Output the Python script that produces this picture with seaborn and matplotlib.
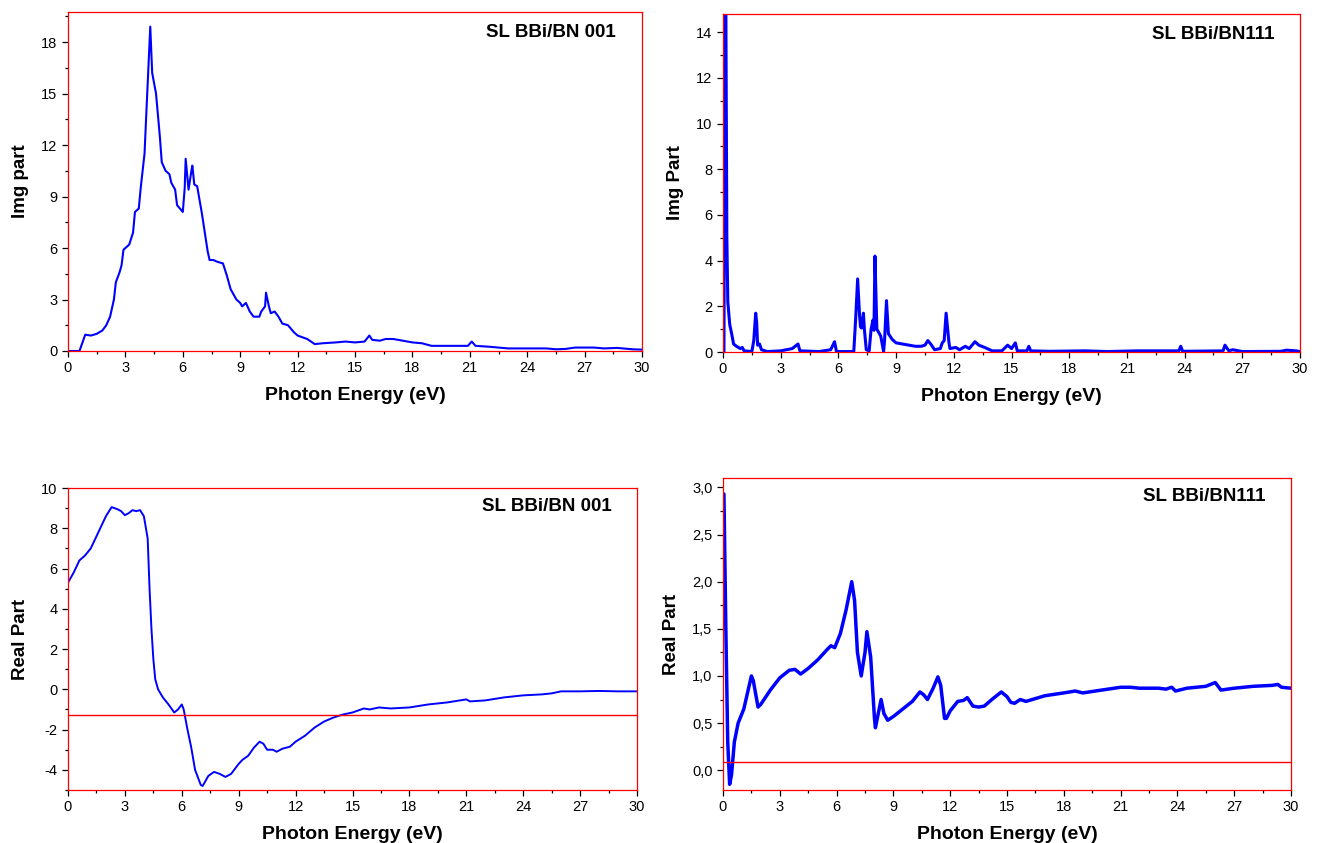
import numpy as np
import pandas as pd
import matplotlib
matplotlib.use("Agg")
import matplotlib.pyplot as plt
from matplotlib.ticker import MultipleLocator, FuncFormatter
import seaborn as sns

# ---------------- data ----------------
img001_x = [0.0, 0.6, 0.9, 1.2, 1.5, 1.8, 2.0, 2.2, 2.4, 2.5, 2.7, 2.8, 2.9, 3.2, 3.4, 3.5, 3.7, 3.8,
            4.0, 4.1, 4.3, 4.4, 4.6, 4.8, 4.9, 5.1, 5.3, 5.4, 5.6, 5.7, 6.0, 6.1, 6.15, 6.3, 6.45, 6.5,
            6.6, 6.75, 7.0, 7.3, 7.4, 7.6, 7.8, 8.1, 8.3, 8.5, 8.8, 9.0, 9.1, 9.3, 9.5, 9.7, 10.0, 10.1,
            10.3, 10.35, 10.5, 10.6, 10.8, 11.0, 11.2, 11.5, 11.8, 12.0, 12.5, 12.9, 13.3, 14.0, 14.5,
            15.0, 15.5, 15.75, 15.9, 16.3, 16.6, 17.0, 17.5, 18.0, 18.5, 19.0, 20.0, 20.9, 21.1, 21.3,
            22.0, 23.0, 24.0, 25.0, 25.5, 26.0, 26.5, 27.5, 28.0, 28.7, 29.5, 30.0]
img001_y = [0.0, 0.0, 0.95, 0.9, 1.0, 1.2, 1.5, 2.0, 3.0, 4.0, 4.6, 5.0, 5.9, 6.2, 6.9, 8.1, 8.3, 9.5,
            11.5, 14.0, 18.9, 16.2, 15.0, 12.5, 11.0, 10.5, 10.3, 9.8, 9.4, 8.5, 8.1, 9.5, 11.2, 9.4, 10.5, 10.8,
            9.7, 9.6, 8.0, 5.8, 5.3, 5.3, 5.2, 5.1, 4.4, 3.6, 3.0, 2.8, 2.6, 2.8, 2.3, 2.0, 2.0, 2.3,
            2.6, 3.4, 2.6, 2.2, 2.3, 2.0, 1.6, 1.5, 1.1, 0.9, 0.7, 0.4, 0.45, 0.5, 0.55,
            0.5, 0.55, 0.9, 0.65, 0.6, 0.7, 0.7, 0.6, 0.5, 0.45, 0.3, 0.3, 0.3, 0.55, 0.3,
            0.25, 0.15, 0.15, 0.15, 0.1, 0.12, 0.2, 0.2, 0.15, 0.18, 0.1, 0.08]

img111_x = [0.05, 0.1, 0.15, 0.2, 0.25, 0.35, 0.45, 0.55, 0.7, 0.9, 1.0, 1.1, 1.5, 1.6, 1.7, 1.75, 1.8,
            1.9, 2.0, 2.3, 3.0, 3.6, 3.9, 4.0, 5.0, 5.6, 5.8, 5.9, 6.8, 6.9, 7.0, 7.1, 7.15, 7.2, 7.3,
            7.35, 7.45, 7.6, 7.7, 7.8, 7.85, 7.9, 8.0, 8.2, 8.35, 8.4, 8.5, 8.6, 8.8, 9.0, 10.0, 10.3,
            10.5, 10.65, 10.8, 11.0, 11.3, 11.4, 11.5, 11.6, 11.75, 11.8, 12.1, 12.3, 12.6, 12.8, 13.1,
            13.3, 13.6, 14.0, 14.5, 14.8, 15.0, 15.2, 15.3, 15.8, 15.9, 16.0, 17.0, 18.8, 20.0, 21.5,
            23.0, 23.7, 23.8, 23.9, 26.0, 26.1, 26.3, 26.5, 27.0, 29.0, 29.3, 29.8, 30.0]
img111_y = [0.0, 14.8, 14.8, 5.0, 2.2, 1.2, 0.8, 0.35, 0.25, 0.15, 0.2, 0.05, 0.02, 0.5, 1.7, 1.3, 0.3,
            0.35, 0.1, 0.02, 0.05, 0.15, 0.35, 0.05, 0.02, 0.1, 0.45, 0.02, 0.02, 1.5, 3.2, 1.6, 1.1, 1.05, 1.7,
            1.0, 0.1, 0.05, 1.0, 1.4, 0.95, 4.2, 1.0, 0.7, 0.02, 0.5, 2.25, 0.8, 0.55, 0.4, 0.25, 0.25,
            0.3, 0.5, 0.35, 0.1, 0.15, 0.4, 0.5, 1.7, 0.4, 0.15, 0.2, 0.1, 0.25, 0.15, 0.45,
            0.3, 0.2, 0.05, 0.05, 0.3, 0.15, 0.4, 0.05, 0.05, 0.25, 0.05, 0.03, 0.05, 0.02, 0.05,
            0.05, 0.05, 0.25, 0.03, 0.05, 0.3, 0.05, 0.1, 0.02, 0.03, 0.08, 0.05, 0.02]

real001_x = [0.0, 0.3, 0.6, 0.9, 1.2, 1.6, 2.0, 2.3, 2.6, 2.8, 3.0, 3.2, 3.4, 3.6, 3.8, 4.0, 4.2, 4.3,
             4.4, 4.5, 4.6, 4.75, 5.0, 5.3, 5.6, 5.8, 6.0, 6.1, 6.3, 6.5, 6.7, 7.0, 7.1, 7.4, 7.7, 8.0,
             8.3, 8.6, 9.0, 9.2, 9.5, 9.8, 10.1, 10.3, 10.5, 10.8, 11.0, 11.3, 11.7, 12.0, 12.5, 13.0,
             13.5, 14.0, 14.5, 15.0, 15.3, 15.6, 15.9, 16.4, 17.0, 18.0, 19.0, 20.0, 21.0, 21.2, 22.0,
             23.0, 24.0, 25.0, 25.5, 26.0, 27.0, 28.0, 29.0, 30.0]
real001_y = [5.3, 5.8, 6.4, 6.65, 7.0, 7.8, 8.6, 9.05, 8.95, 8.85, 8.65, 8.75, 8.9, 8.85, 8.9, 8.6, 7.5, 5.0,
             3.0, 1.5, 0.5, 0.0, -0.4, -0.75, -1.15, -1.0, -0.75, -1.0, -2.0, -2.9, -4.0, -4.75, -4.8, -4.3, -4.1, -4.2,
             -4.35, -4.2, -3.7, -3.5, -3.3, -2.9, -2.6, -2.7, -3.0, -3.0, -3.1, -2.95, -2.85, -2.6, -2.3, -1.9,
             -1.6, -1.4, -1.25, -1.15, -1.05, -0.95, -1.0, -0.9, -0.95, -0.9, -0.75, -0.65, -0.5, -0.6, -0.55,
             -0.4, -0.3, -0.25, -0.2, -0.1, -0.1, -0.08, -0.1, -0.1]

real111_x = [0.05, 0.15, 0.25, 0.35, 0.45, 0.6, 0.8, 1.1, 1.5, 1.6, 1.85, 2.0, 2.5, 3.0, 3.5, 3.8, 4.1,
             4.5, 5.0, 5.5, 5.7, 5.9, 6.2, 6.5, 6.8, 6.95, 7.1, 7.3, 7.5, 7.6, 7.8, 8.0, 8.05, 8.2, 8.35,
             8.5, 8.7, 9.0, 9.5, 10.0, 10.4, 10.6, 10.8, 11.1, 11.35, 11.5, 11.7, 11.8, 12.0, 12.4, 12.7,
             12.9, 13.2, 13.5, 13.8, 14.2, 14.7, 15.0, 15.2, 15.4, 15.7, 16.0, 16.5, 17.0, 18.0, 18.6,
             19.0, 20.0, 21.0, 21.5, 22.0, 23.0, 23.4, 23.7, 23.9, 24.5, 25.0, 25.5, 26.0, 26.3, 27.0,
             28.0, 29.0, 29.3, 29.5, 30.0]
real111_y = [2.93, 1.5, 0.3, -0.15, -0.05, 0.3, 0.5, 0.65, 1.0, 0.95, 0.67, 0.7, 0.85, 0.98, 1.06, 1.07, 1.02,
             1.08, 1.17, 1.28, 1.32, 1.3, 1.45, 1.7, 2.0, 1.8, 1.25, 1.0, 1.25, 1.47, 1.2, 0.55, 0.45, 0.6, 0.75,
             0.6, 0.53, 0.57, 0.65, 0.73, 0.83, 0.8, 0.75, 0.87, 0.99, 0.9, 0.55, 0.55, 0.63, 0.73, 0.74,
             0.77, 0.68, 0.67, 0.68, 0.75, 0.83, 0.78, 0.72, 0.71, 0.75, 0.73, 0.76, 0.79, 0.82, 0.84,
             0.82, 0.85, 0.88, 0.88, 0.87, 0.87, 0.86, 0.88, 0.84, 0.87, 0.88, 0.89, 0.93, 0.85, 0.87,
             0.89, 0.9, 0.91, 0.88, 0.87]

ref_line_001 = -1.27
ref_line_111 = 0.085

label_001 = "SL BBi/BN 001"
label_111 = "SL BBi/BN111"
xlabel = "Photon Energy (eV)"

# ---------------- style ----------------
sns.set_style("ticks")
plt.rcParams["font.family"] = ["Liberation Sans", "DejaVu Sans"]
plt.rcParams["text.color"] = "black"
plt.rcParams["axes.labelcolor"] = "black"
plt.rcParams["xtick.color"] = "black"
plt.rcParams["ytick.color"] = "black"
plt.rcParams["xtick.labelcolor"] = "black"
plt.rcParams["ytick.labelcolor"] = "black"

W, H = 1318, 843
fig = plt.figure(figsize=(W / 100, H / 100), dpi=100)


def make_ax(left, right, top, bottom):
    return fig.add_axes([left / W, (H - bottom) / H, (right - left) / W, (bottom - top) / H])


def style(ax, ylim, ymaj, ymin, ylabel, text, comma=False):
    ax.set_xlim(0, 30)
    ax.set_ylim(*ylim)
    ax.xaxis.set_major_locator(MultipleLocator(3))
    ax.xaxis.set_minor_locator(MultipleLocator(1.5))
    ax.yaxis.set_major_locator(MultipleLocator(ymaj))
    ax.yaxis.set_minor_locator(MultipleLocator(ymin))
    if comma:
        ax.yaxis.set_major_formatter(FuncFormatter(lambda v, p: f"{v:.1f}".replace(".", ",")))
    else:
        ax.yaxis.set_major_formatter(FuncFormatter(lambda v, p: f"{v:g}"))
    for s in ax.spines.values():
        s.set_color("red")
        s.set_linewidth(0.9)
        s.set_visible(True)
    ax.tick_params(which="major", direction="out", length=4.5, width=0.9, color="black",
                   labelsize=10.5, pad=3, labelcolor="black")
    ax.tick_params(which="minor", direction="out", length=2.5, width=0.9, color="black")
    ax.tick_params(axis="both", which="both", top=False, right=False)
    ax.set_xlabel(xlabel, fontsize=14, fontweight="bold", labelpad=8, color="black")
    ax.set_ylabel(ylabel, fontsize=13.5, fontweight="bold", labelpad=9, color="black")
    ax.text(0.955, 0.94, text, transform=ax.transAxes, ha="right", va="center",
            fontsize=13.5, fontweight="bold", color="black")


ax1 = make_ax(68, 642, 12, 351)
sns.lineplot(x=img001_x, y=img001_y, ax=ax1, color="#0000ff", linewidth=1.5, estimator=None)
style(ax1, (0, 19.75), 3, 1.5, "Img part", label_001)

ax2 = make_ax(723, 1300, 14, 352)
sns.lineplot(x=img111_x, y=img111_y, ax=ax2, color="#0000ff", linewidth=2.2, estimator=None)
style(ax2, (0, 14.8), 2, 1, "Img Part", label_111)

ax3 = make_ax(68, 637, 488, 790)
sns.lineplot(x=real001_x, y=real001_y, ax=ax3, color="#0000ff", linewidth=1.4, estimator=None)
ax3.axhline(ref_line_001, color="red", linewidth=1.0)
style(ax3, (-5, 10), 2, 1, "Real Part", label_001)

ax4 = make_ax(723, 1291, 478, 790)
sns.lineplot(x=real111_x, y=real111_y, ax=ax4, color="#0000ff", linewidth=2.5, estimator=None)
ax4.axhline(ref_line_111, color="red", linewidth=1.0)
style(ax4, (-0.21, 3.1), 0.5, 0.25, "Real Part", label_111, comma=True)

fig.savefig("out.png", dpi=100)
